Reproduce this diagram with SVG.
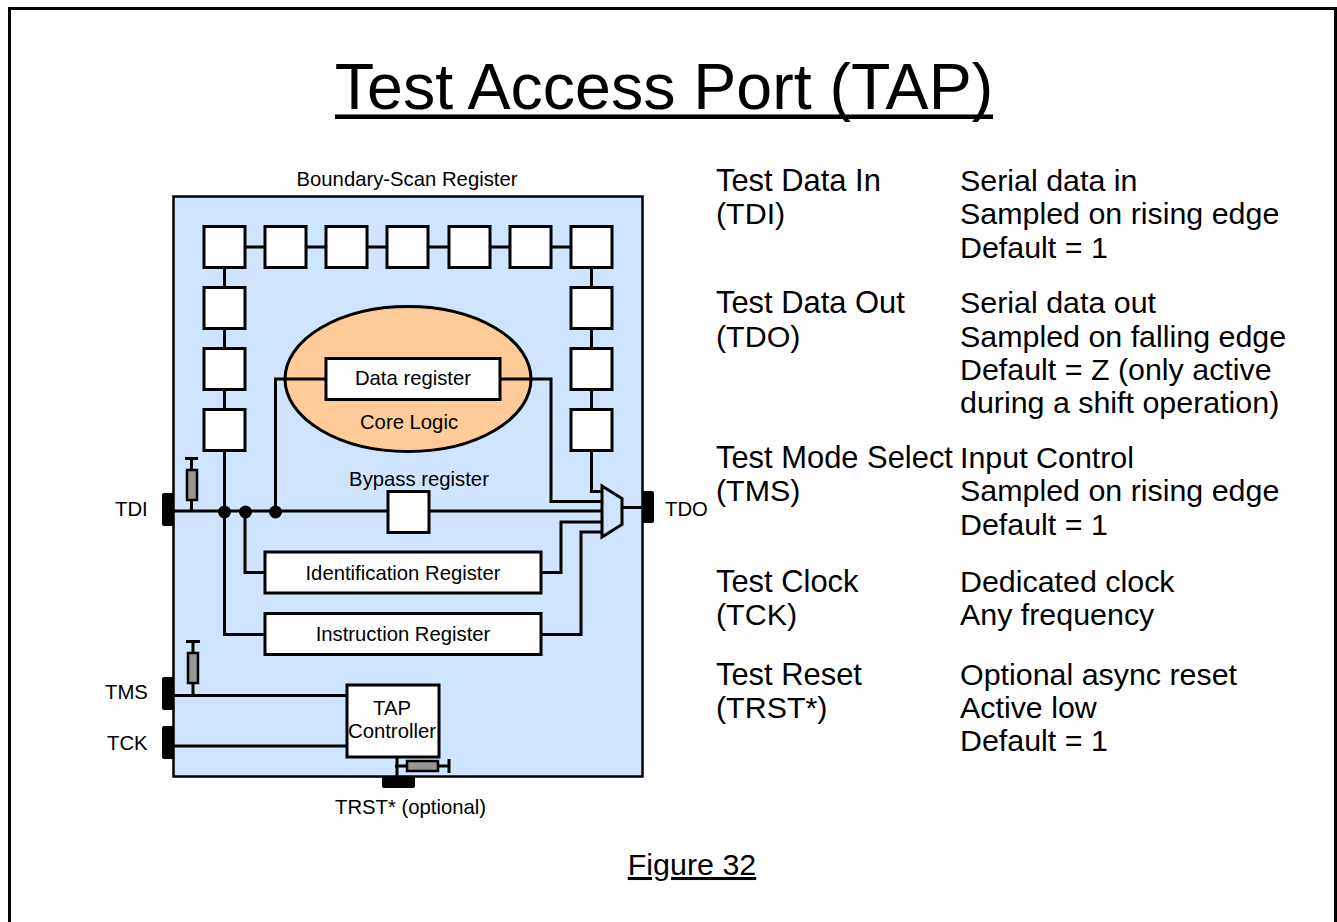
<svg xmlns="http://www.w3.org/2000/svg" width="1337" height="922" viewBox="0 0 1337 922">
<style>
text{font-family:"Liberation Sans",Arial,sans-serif;fill:#000}
.s{font-size:20.300px}.m{font-size:20.300px;text-anchor:middle}.b{font-size:30.400px}.t{font-size:30.900px}
.r{fill:#fff;stroke:#000;stroke-width:3}
.w{fill:none;stroke:#000;stroke-width:3}
.p{fill:#000}
.res{fill:#969696;stroke:#000;stroke-width:2.500}
</style>
<rect width="1337" height="922" fill="#fff"/>
<path d="M9.500 922V8.500H1335.500V922" fill="none" stroke="#000" stroke-width="3"/>
<text x="664" y="109" font-size="64.500" text-anchor="middle">Test Access Port (TAP)</text>
<rect x="335" y="114.500" width="658" height="4.500" fill="#000"/>
<text class="s" x="407" y="186" text-anchor="middle">Boundary-Scan Register</text>
<rect id="chip" x="173.500" y="196.500" width="469" height="580" fill="#cfe5ff" stroke="#000" stroke-width="2.500"/>
<g id="core"><ellipse cx="408" cy="379" rx="123" ry="72.500" fill="#ffcc99" stroke="#000" stroke-width="3"/><text class="m" x="409" y="429">Core Logic</text></g>
<g id="connectors" class="w">
<path class="w" d="M224.500 247H591.500M224.500 247V634.500H265M591.500 247V491.500H602M275.500 511V379H326M500 379H551V501.500H602M173 511H388M429 511H602M245 511V572.500H265M541 572.500H561V522H602M541 634.500H581V532H602M622 507.500H642M173 695.500H347M173 746H347M191.500 500V511M193 684V695.500M397 757V776M395 766H407"/>
</g>
<g id="dots" class="p"><circle cx="224.500" cy="512" r="6.500"/><circle cx="245.500" cy="512" r="6.500"/><circle cx="275.500" cy="512" r="6.500"/></g>
<g id="bsr">
<rect class="r" x="204" y="226.500" width="41" height="41"/><rect class="r" x="265" y="226.500" width="41" height="41"/><rect class="r" x="326" y="226.500" width="41" height="41"/><rect class="r" x="387" y="226.500" width="41" height="41"/><rect class="r" x="449" y="226.500" width="41" height="41"/><rect class="r" x="510" y="226.500" width="41" height="41"/><rect class="r" x="571" y="226.500" width="41" height="41"/>
<rect class="r" x="204" y="287.500" width="41" height="41"/><rect class="r" x="204" y="348.500" width="41" height="41"/><rect class="r" x="204" y="409.500" width="41" height="41"/>
<rect class="r" x="571" y="287.500" width="41" height="41"/><rect class="r" x="571" y="348.500" width="41" height="41"/><rect class="r" x="571" y="409.500" width="41" height="41"/>
</g>
<g id="data-register"><rect class="r" x="326" y="358.500" width="174" height="41"/><text class="m" x="413" y="385">Data register</text></g>
<g id="bypass"><text class="m" x="419" y="486">Bypass register</text><rect class="r" x="388" y="491.500" width="41" height="41"/></g>
<g id="id-register"><rect class="r" x="265" y="552" width="276" height="41"/><text class="m" x="403" y="580">Identification Register</text></g>
<g id="ir"><rect class="r" x="265" y="613.500" width="276" height="41"/><text class="m" x="403" y="641">Instruction Register</text></g>
<g id="mux"><path d="M602 486L622 498.500V524.500L602 537Z" fill="#cfe5ff" stroke="#000" stroke-width="3"/></g>
<g id="tap"><rect class="r" x="347" y="685" width="92" height="72"/><text class="m" x="392" y="715">TAP</text><text class="m" x="392" y="738">Controller</text></g>
<g id="pins" class="p">
<rect x="162" y="493" width="12" height="33" rx="2"/><rect x="642" y="491" width="12" height="32" rx="2"/><rect x="162" y="677" width="12" height="33" rx="2"/><rect x="162" y="726" width="12" height="33" rx="2"/><rect x="382" y="776" width="33" height="12" rx="2"/>
</g>
<g id="resistors">
<path class="w" d="M185 458.500H198M191.500 458.500V470M186 641.500H200M193 641.500V653"/>
<rect class="res" x="187" y="470" width="10" height="30"/><rect class="res" x="188" y="653" width="10" height="30"/>
<path class="w" d="M438 766H449M449 759V773"/>
<rect class="res" x="407" y="761" width="31" height="10"/>
</g>
<g id="pin-labels">
<text class="s" x="115" y="516">TDI</text><text class="s" x="665" y="516">TDO</text><text class="s" x="105" y="699">TMS</text><text class="s" x="107" y="750">TCK</text><text class="s" x="335" y="814">TRST* (optional)</text>
</g>
<g id="desc">
<text class="t" x="716" y="191">Test Data In</text><text class="b" x="716" y="224">(TDI)</text>
<text class="b" x="960" y="191">Serial data in</text><text class="b" x="960" y="224">Sampled on rising edge</text><text class="b" x="960" y="258">Default = 1</text>
<text class="t" x="716" y="313">Test Data Out</text><text class="b" x="716" y="347">(TDO)</text>
<text class="b" x="960" y="313">Serial data out</text><text class="b" x="960" y="347">Sampled on falling edge</text><text class="b" x="960" y="380">Default = Z (only active</text><text class="b" x="960" y="413">during a shift operation)</text>
<text class="t" x="716" y="468">Test Mode Select</text><text class="b" x="716" y="501">(TMS)</text>
<text class="b" x="960" y="468">Input Control</text><text class="b" x="960" y="501">Sampled on rising edge</text><text class="b" x="960" y="535">Default = 1</text>
<text class="t" x="716" y="592">Test Clock</text><text class="b" x="716" y="625">(TCK)</text>
<text class="b" x="960" y="592">Dedicated clock</text><text class="b" x="960" y="625">Any frequency</text>
<text class="t" x="716" y="685">Test Reset</text><text class="b" x="716" y="718">(TRST*)</text>
<text class="b" x="960" y="685">Optional async reset</text><text class="b" x="960" y="718">Active low</text><text class="b" x="960" y="751">Default = 1</text>
</g>
<text id="fig" x="692" y="875" font-size="30.400" text-anchor="middle" text-decoration="underline">Figure 32</text>
</svg>
